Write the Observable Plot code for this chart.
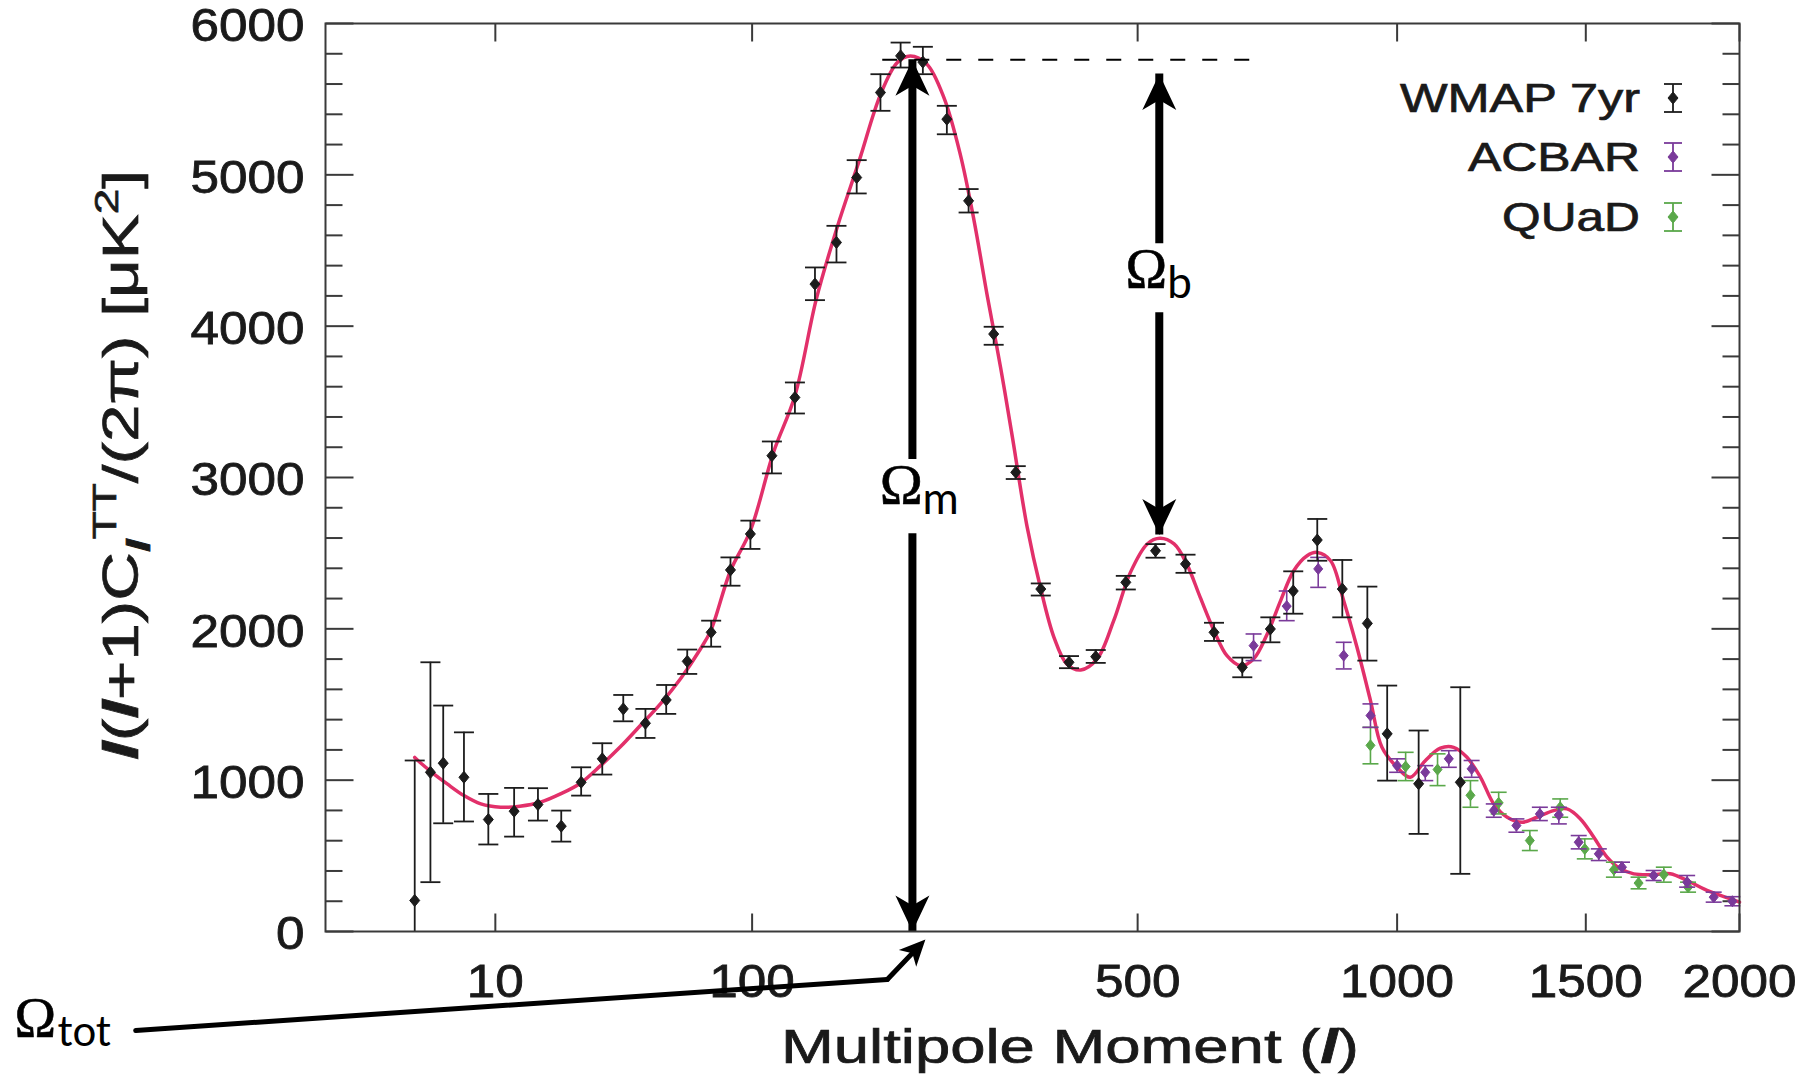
<!DOCTYPE html>
<html>
<head>
<meta charset="utf-8">
<script src="https://cdn.jsdelivr.net/npm/d3@7"></script>
<script src="https://cdn.jsdelivr.net/npm/@observablehq/plot@0.6"></script>
<style>
  html, body { margin: 0; padding: 0; background: #fff; }
  #chart svg { display: block; }
</style>
</head>
<body>
<div id="chart"></div>
<script>
// ---- CMB temperature power spectrum: binned band powers and best-fit model ----

// WMAP 7-year binned spectrum: multipole, D_l, lower and upper error bound [μK²]
const wmapL  = [2, 3, 4, 6, 9, 13, 17.5, 22.7, 27.8, 33.9, 40.7, 48.7, 57, 66.2, 77.7, 87.8, 99, 112, 127, 141, 157, 173, 193, 211, 232, 256, 279, 307, 333, 364, 401, 438, 482, 528, 577, 626, 677, 730, 775, 824, 877, 932, 977, 1051, 1154];
const wmapV  = [205, 1052, 1112, 1019, 740, 795, 839, 696, 986, 1141, 1471, 1376, 1530, 1785, 1977, 2389, 2627, 3144, 3529, 4278, 4553, 4982, 5544, 5786, 5745, 5368, 4828, 3948, 3034, 2263, 1779, 1816, 2307, 2516, 2429, 1977, 1746, 1999, 2250, 2587, 2263, 2036, 1306, 976, 986];
const wmapLo = [-700, 326, 715, 727, 575, 627, 733, 594, 898, 1037, 1389, 1279, 1438, 1702, 1882, 2285, 2528, 3027, 3423, 4172, 4421, 4877, 5423, 5709, 5665, 5268, 4751, 3877, 2990, 2220, 1740, 1775, 2260, 2470, 2370, 1920, 1680, 1911, 2100, 2450, 2076, 1790, 997, 645, 381];
const wmapHi = [1130, 1779, 1493, 1316, 909, 949, 947, 799, 1085, 1244, 1563, 1471, 1629, 1863, 2054, 2472, 2715, 3238, 3628, 4388, 4663, 5097, 5665, 5874, 5846, 5456, 4906, 3996, 3075, 2300, 1820, 1860, 2350, 2560, 2490, 2040, 1810, 2076, 2380, 2726, 2455, 2279, 1625, 1328, 1614];

// ACBAR band powers
const acbarL  = [698, 762, 826, 880, 939, 1000, 1067, 1125, 1183, 1241, 1302, 1367, 1421, 1479, 1539, 1610, 1710, 1820, 1910, 1975];
const acbarV  = [1889, 2150, 2396, 1823, 1427, 1096, 1052, 1141, 1075, 799, 700, 777, 770, 590, 513, 425, 370, 326, 227, 200];
const acbarLo = [1790, 2054, 2274, 1735, 1349, 1052, 997, 1085, 1019, 755, 656, 733, 711, 546, 469, 392, 337, 293, 194, 170];
const acbarHi = [1966, 2250, 2472, 1911, 1504, 1141, 1096, 1195, 1130, 843, 744, 821, 821, 634, 546, 458, 403, 370, 260, 230];

// QUaD band powers
const quadL  = [939, 1020, 1097, 1180, 1254, 1339, 1425, 1497, 1585, 1662, 1743, 1823];
const quadV  = [1230, 1090, 1070, 900, 850, 601, 821, 545, 408, 320, 376, 293];
const quadLo = [1108, 997, 964, 821, 777, 535, 755, 480, 359, 282, 326, 260];
const quadHi = [1349, 1184, 1174, 997, 920, 667, 876, 612, 458, 359, 425, 326];

// Best-fit ΛCDM model curve
const modelL = [2, 2.3, 3.1, 4.35, 6, 8, 10.8, 14, 18, 22.5, 27.6, 33.4, 39.8, 46.8, 54.6, 63.1, 72.4, 77.5, 87.8, 99, 113, 127, 142, 157.5, 175, 193, 208, 220, 236, 253, 270, 285, 300, 315, 329, 347, 364, 381, 398, 417, 440, 464, 489, 515, 535, 558, 579, 602, 626, 649, 674, 698, 724, 750, 776, 803, 824, 852, 880, 909, 939, 965, 1000, 1031, 1067, 1104, 1137, 1171, 1206, 1241, 1277, 1318, 1359, 1406, 1445, 1484, 1524, 1564, 1605, 1647, 1710, 1764, 1820, 1876, 1933, 2000];
const modelV = [1150, 1118, 1052, 975, 898, 843, 821, 828, 854, 909, 980, 1096, 1222, 1361, 1504, 1669, 1867, 1988, 2384, 2649, 3166, 3540, 4180, 4652, 5092, 5530, 5742, 5785, 5731, 5510, 5137, 4696, 4190, 3727, 3265, 2670, 2263, 1944, 1768, 1728, 1801, 2054, 2373, 2561, 2598, 2561, 2429, 2208, 1988, 1823, 1757, 1801, 1966, 2186, 2384, 2483, 2505, 2450, 2186, 1878, 1526, 1217, 1085, 1019, 1129, 1211, 1217, 1151, 1019, 843, 755, 722, 755, 799, 810, 744, 623, 491, 414, 381, 376, 381, 337, 282, 238, 194];

// Axis ticks
const xTicks = [10, 100, 500, 1000, 1500, 2000];
const yTicks = [0, 1000, 2000, 3000, 4000, 5000, 6000];
const yMinor = [200, 400, 600, 800, 1200, 1400, 1600, 1800, 2200, 2400, 2600, 2800, 3200, 3400, 3600, 3800, 4200, 4400, 4600, 4800, 5200, 5400, 5600, 5800];

// Series names and colours
const seriesNames  = ["WMAP 7yr", "ACBAR", "QUaD"];
const seriesColors = ["#1c1c1c", "#7a3a9a", "#5aa84a"];
const modelColor = "#e2306a";

// Annotation anchors (multipole, D_l)
const firstPeak  = {l: 222, top: 5760, gapHi: 3290, gapLo: 2457, base: 0};
const secondPeak = {l: 534, top: 5667, gapHi: 4716, gapLo: 3917, tip: 2620};
const peakLevel  = {v: 5760, l1: 195, l2: 694};
const totLeader  = [{l: -13.2, v: -654}, {l: 199, v: -317}, {l: 234.5, v: -53}];
const omegaLabels = {
  m:   {l: 222, v: 2827},
  b:   {l: 534, v: 4254},
  tot: {l: -45.4, v: -694}
};

// ---- helpers: pixel-sized custom symbols ----
const sym = f => ({draw(ctx) { f(ctx); }});
const capSym = w => sym(c => { c.moveTo(-w, 0); c.lineTo(w, 0); });
const diamondSym = (w, h) => sym(c => { c.moveTo(0, -h); c.lineTo(w, 0); c.lineTo(0, h); c.lineTo(-w, 0); c.closePath(); });
const vTick = L => sym(c => { c.moveTo(0, 0); c.lineTo(0, L); });
const hTick = L => sym(c => { c.moveTo(0, 0); c.lineTo(L, 0); });
const headSym = (w, len, notch) => sym(c => { c.moveTo(0, 0); c.lineTo(w, len); c.lineTo(0, notch); c.lineTo(-w, len); c.closePath(); });
const headDownSym = (w, len, notch) => sym(c => { c.moveTo(0, 0); c.lineTo(w, -len); c.lineTo(0, -notch); c.lineTo(-w, -len); c.closePath(); });

function bandRows(L, V, LO, HI) {
  return L.map((l, i) => ({l, v: V[i], lo: LO[i], hi: HI[i]}));
}

function errorMarks(rows, color, capW, dW, dH, sw) {
  return [
    Plot.ruleX(rows, {x: "l", y1: d => Math.max(d.lo, 0), y2: "hi", stroke: color, strokeWidth: sw}),
    Plot.dot(rows, {x: "l", y: "hi", r: 1, symbol: capSym(capW), stroke: color, strokeWidth: sw, fill: "none"}),
    Plot.dot(rows.filter(d => d.lo >= 0), {x: "l", y: "lo", r: 1, symbol: capSym(capW), stroke: color, strokeWidth: sw, fill: "none"}),
    Plot.dot(rows, {x: "l", y: "v", r: 1, symbol: diamondSym(dW, dH), fill: color, stroke: color, strokeWidth: 1})
  ];
}

const wmap  = bandRows(wmapL, wmapV, wmapLo, wmapHi);
const acbar = bandRows(acbarL, acbarV, acbarLo, acbarHi);
const quad  = bandRows(quadL, quadV, quadLo, quadHi);
const model = modelL.map((l, i) => ({l, v: modelV[i]}));

const axisColor = "#3a3a3a";
const black = "#000";

const svg = Plot.plot({
  width: 1800,
  height: 1091,
  marginLeft: 325,
  marginRight: 61,
  marginTop: 23,
  marginBottom: 160,
  style: {fontFamily: "Liberation Sans, Arial, sans-serif", fontSize: "45px", color: "#1a1a1a", background: "#fff", overflow: "visible"},
  x: {type: "pow", exponent: 0.4, domain: [0, 2000]},
  y: {domain: [0, 6000]},
  marks: [
    // tick labels
    Plot.axisX(xTicks, {anchor: "bottom", tickSize: 0, tickPadding: 33, tickFormat: d => String(d), label: null, fontSize: 46}),
    Plot.axisY(yTicks, {anchor: "left", tickSize: 0, tickPadding: 21, tickFormat: d => String(d), label: null, fontSize: 46, dy: 3}),

    // inward ticks on all four sides
    Plot.dot(xTicks, {x: d => d, y: 0, r: 1, symbol: vTick(-18), stroke: axisColor, strokeWidth: 2}),
    Plot.dot(xTicks, {x: d => d, y: 6000, r: 1, symbol: vTick(18), stroke: axisColor, strokeWidth: 2}),
    Plot.dot(yTicks, {x: 0, y: d => d, r: 1, symbol: hTick(28), stroke: axisColor, strokeWidth: 2}),
    Plot.dot(yMinor, {x: 0, y: d => d, r: 1, symbol: hTick(17), stroke: axisColor, strokeWidth: 2}),
    Plot.dot(yTicks, {x: 2000, y: d => d, r: 1, symbol: hTick(-28), stroke: axisColor, strokeWidth: 2}),
    Plot.dot(yMinor, {x: 2000, y: d => d, r: 1, symbol: hTick(-17), stroke: axisColor, strokeWidth: 2}),

    // model spectrum
    Plot.line(model, {x: "l", y: "v", stroke: modelColor, strokeWidth: 3.5, curve: "catmull-rom"}),

    // band powers
    ...errorMarks(quad, seriesColors[2], 8, 4.5, 5.5, 1.6),
    ...errorMarks(acbar, seriesColors[1], 8, 4.5, 5.5, 1.6),
    ...errorMarks(wmap, seriesColors[0], 10, 5, 6, 1.8),

    // first-peak height reference
    Plot.ruleY([peakLevel], {y: "v", x1: "l1", x2: "l2", stroke: black, strokeWidth: 2, strokeDasharray: "15,17"}),

    // Ω_m arrow (first peak)
    Plot.ruleX([firstPeak], {x: "l", y1: "gapHi", y2: "top", stroke: black, strokeWidth: 8, insetTop: 26}),
    Plot.ruleX([firstPeak], {x: "l", y1: "base", y2: "gapLo", stroke: black, strokeWidth: 8, insetBottom: 26}),
    Plot.dot([firstPeak], {x: "l", y: "top", r: 1, symbol: headSym(17, 36, 26), fill: black, stroke: "none"}),
    Plot.dot([firstPeak], {x: "l", y: "base", r: 1, symbol: headDownSym(17, 36, 26), fill: black, stroke: "none"}),

    // Ω_b arrow (second peak)
    Plot.ruleX([secondPeak], {x: "l", y1: "gapHi", y2: "top", stroke: black, strokeWidth: 8, insetTop: 26}),
    Plot.ruleX([secondPeak], {x: "l", y1: "tip", y2: "gapLo", stroke: black, strokeWidth: 8, insetBottom: 26}),
    Plot.dot([secondPeak], {x: "l", y: "top", r: 1, symbol: headSym(17, 36, 26), fill: black, stroke: "none"}),
    Plot.dot([secondPeak], {x: "l", y: "tip", r: 1, symbol: headDownSym(17, 36, 26), fill: black, stroke: "none"}),

    // Ω_tot leader
    Plot.line(totLeader.slice(0, 2), {x: "l", y: "v", stroke: black, strokeWidth: 5}),
    Plot.arrow([{a: totLeader[1], b: totLeader[2]}], {x1: d => d.a.l, y1: d => d.a.v, x2: d => d.b.l, y2: d => d.b.v, stroke: black, strokeWidth: 5, headLength: 0, insetEnd: 14}),
    Plot.dot([totLeader[2]], {x: "l", y: "v", r: 1, rotate: 43.5, symbol: headSym(12, 26, 19), fill: black, stroke: "none"}),

    // Ω labels
    Plot.text([omegaLabels.m], {x: "l", y: "v", text: () => "Ω", dx: -11, textAnchor: "middle", lineAnchor: "bottom", fontFamily: "Liberation Serif", fontSize: 58, fill: black, stroke: black, strokeWidth: 0.6}),
    Plot.text([omegaLabels.m], {x: "l", y: "v", text: () => "m", dx: 10, dy: 10, textAnchor: "start", lineAnchor: "bottom", fontFamily: "Lato", fontSize: 44, fill: black}),
    Plot.text([omegaLabels.b], {x: "l", y: "v", text: () => "Ω", dx: -13, textAnchor: "middle", lineAnchor: "bottom", fontFamily: "Liberation Serif", fontSize: 56, fill: black, stroke: black, strokeWidth: 0.6}),
    Plot.text([omegaLabels.b], {x: "l", y: "v", text: () => "b", dx: 8, dy: 10, textAnchor: "start", lineAnchor: "bottom", fontFamily: "Lato", fontSize: 44, fill: black}),
    Plot.text([omegaLabels.tot], {x: "l", y: "v", text: () => "Ω", textAnchor: "start", lineAnchor: "bottom", fontFamily: "Liberation Serif", fontSize: 56, fill: black, stroke: black, strokeWidth: 0.6}),
    Plot.text([omegaLabels.tot], {x: "l", y: "v", text: () => "tot", dx: 43, dy: 9, textAnchor: "start", lineAnchor: "bottom", fontFamily: "Lato", fontSize: 42, fill: black}),

    Plot.frame({stroke: axisColor, strokeWidth: 2})
  ]
});

// Stretch tick labels to the figure's wide, heavy lettering
d3.select(svg).selectAll('g[aria-label="x-axis tick label"] text, g[aria-label="y-axis tick label"] text').each(function () {
  const n = this.textContent.length;
  this.setAttribute("textLength", n * 28.5);
  this.setAttribute("lengthAdjust", "spacingAndGlyphs");
  this.setAttribute("stroke", "#1a1a1a");
  this.setAttribute("stroke-width", 0.8);
});

// Axis titles and legend
const g = d3.select(svg).append("g").attr("font-family", "Liberation Sans, Arial, sans-serif")
  .attr("fill", "#1a1a1a").attr("stroke", "#1a1a1a").attr("stroke-width", 0.7);

const xl = g.append("text").attr("x", 1070).attr("y", 1063).attr("text-anchor", "middle").attr("font-size", 48)
  .attr("textLength", 578).attr("lengthAdjust", "spacingAndGlyphs");
xl.append("tspan").text("Multipole Moment (");
xl.append("tspan").attr("font-weight", "bold").attr("font-style", "italic").text("l");
xl.append("tspan").text(")");

const yl = g.append("text").attr("transform", "translate(138,465) rotate(-90)").attr("text-anchor", "middle").attr("font-size", 50)
  .attr("textLength", 590).attr("lengthAdjust", "spacingAndGlyphs");
yl.append("tspan").attr("font-weight", "bold").attr("font-style", "italic").text("l");
yl.append("tspan").text("(");
yl.append("tspan").attr("font-weight", "bold").attr("font-style", "italic").text("l");
yl.append("tspan").text("+1)C");
yl.append("tspan").attr("font-weight", "bold").attr("font-style", "italic").attr("font-size", 34).attr("dy", 12).text("l");
yl.append("tspan").attr("font-size", 34).attr("dy", -34).text("TT");
yl.append("tspan").attr("dy", 22).text("/(2π) [μK");
yl.append("tspan").attr("font-size", 34).attr("dy", -20).text("2");
yl.append("tspan").attr("dy", 20).text("]");

// legend
const legendBase = [112, 171, 231];
const legendWidth = [240, 172, 138];
seriesNames.forEach((name, i) => {
  const cy = legendBase[i] - 14;
  g.append("text").attr("x", 1640).attr("y", legendBase[i]).attr("text-anchor", "end").attr("font-size", 40)
    .attr("textLength", legendWidth[i]).attr("lengthAdjust", "spacingAndGlyphs").text(name);
  const c = seriesColors[i];
  const s = g.append("g").attr("stroke", c).attr("stroke-width", 1.8);
  s.append("line").attr("x1", 1673).attr("x2", 1673).attr("y1", cy - 14).attr("y2", cy + 14);
  s.append("line").attr("x1", 1664).attr("x2", 1682).attr("y1", cy - 14).attr("y2", cy - 14);
  s.append("line").attr("x1", 1664).attr("x2", 1682).attr("y1", cy + 14).attr("y2", cy + 14);
  s.append("path").attr("d", `M1673,${cy - 6}L1678,${cy}L1673,${cy + 6}L1668,${cy}Z`).attr("fill", c).attr("stroke-width", 1);
});

document.getElementById("chart").appendChild(svg);
</script>
</body>
</html>
